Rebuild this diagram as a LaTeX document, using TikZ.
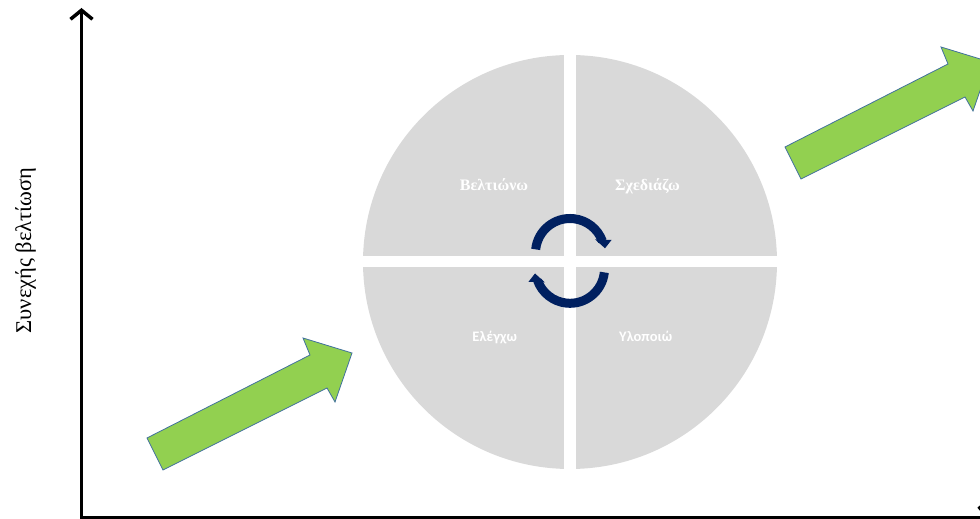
\documentclass[tikz,border=0pt]{standalone}
\usepackage{fontspec}
\setmainfont{Liberation Serif}
\newfontfamily\quadsans{Carlito}
\usetikzlibrary{arrows.meta}

\definecolor{discgray}{HTML}{D9D9D9}
\definecolor{cyclenavy}{HTML}{002060}
\definecolor{leafgreen}{HTML}{92D050}
\definecolor{leafedge}{HTML}{41719C}

\begin{document}
\begin{tikzpicture}[x=1pt,y=1pt,
	axis/.style={line width=3.5pt, -{Straight Barb[length=9pt,width=22pt]}},
	greenarrow/.style={fill=leafgreen, draw=leafedge, line width=0.8pt},
	cyclearc/.style={cyclenavy, line width=9pt},
	serifquad/.style={text=white, anchor=base, font=\bfseries\fontsize{16}{18}\selectfont},
	sansquad/.style={text=white, anchor=base, font=\quadsans\bfseries\fontsize{14.5}{16}\selectfont},
	steparrow/.pic={\filldraw[greenarrow] (0,0) -- (163,83) -- (156,100) -- (205,85) -- (188,36) -- (180,50) -- (16,-32) -- cycle;}]
	\useasboundingbox (0,0) rectangle (980,519);

	% axes
	\coordinate (origin) at (81.5,1.5);
	\coordinate (ytip) at (81.5,511);
	\coordinate (xtip) at (990,1.5);
	\draw[axis] (81.5,-3) -- (ytip);
	\draw[axis] (origin) -- (xtip);
	\node[rotate=90, font=\fontsize{22.5}{24}\selectfont] (ylabel) at (25.5,268.5) {Συνεχής βελτίωση};

	% disc in four parts
	\coordinate (hub) at (570,257);
	\fill[discgray] (hub) circle (207);
	\draw[white, line width=11.5pt] (570,49) -- (570,465);
	\draw[white, line width=11pt] (362,257) -- (778,257);

	\node[serifquad] (improve) at (494,328.3) {Βελτιώνω};
	\node[serifquad] (design) at (647.5,328.3) {Σχεδιάζω};
	\node[sansquad] (check) at (494.7,177.3) {Ελέγχω};
	\node[sansquad] (build) at (645.7,177.3) {Υλοποιώ};

	% turning arrows
	\coordinate (upperhub) at (570,266);
	\coordinate (lowerhub) at (570,250.2);
	\draw[cyclearc] (upperhub) ++(174:34.5) arc[start angle=174, end angle=20, radius=34.5];
	\fill[cyclenavy] (595,279.7) -- (611.5,279) -- (605,270.7) -- cycle;
	\draw[cyclearc] (lowerhub) ++(-6:34.5) arc[start angle=-6, end angle=-160, radius=34.5];
	\fill[cyclenavy] (545,236.5) -- (528.5,237.2) -- (535,245.5) -- cycle;

	% green arrows
	\pic at (147,81) {steparrow};
	\pic at (785,372) {steparrow};
\end{tikzpicture}
\end{document}
